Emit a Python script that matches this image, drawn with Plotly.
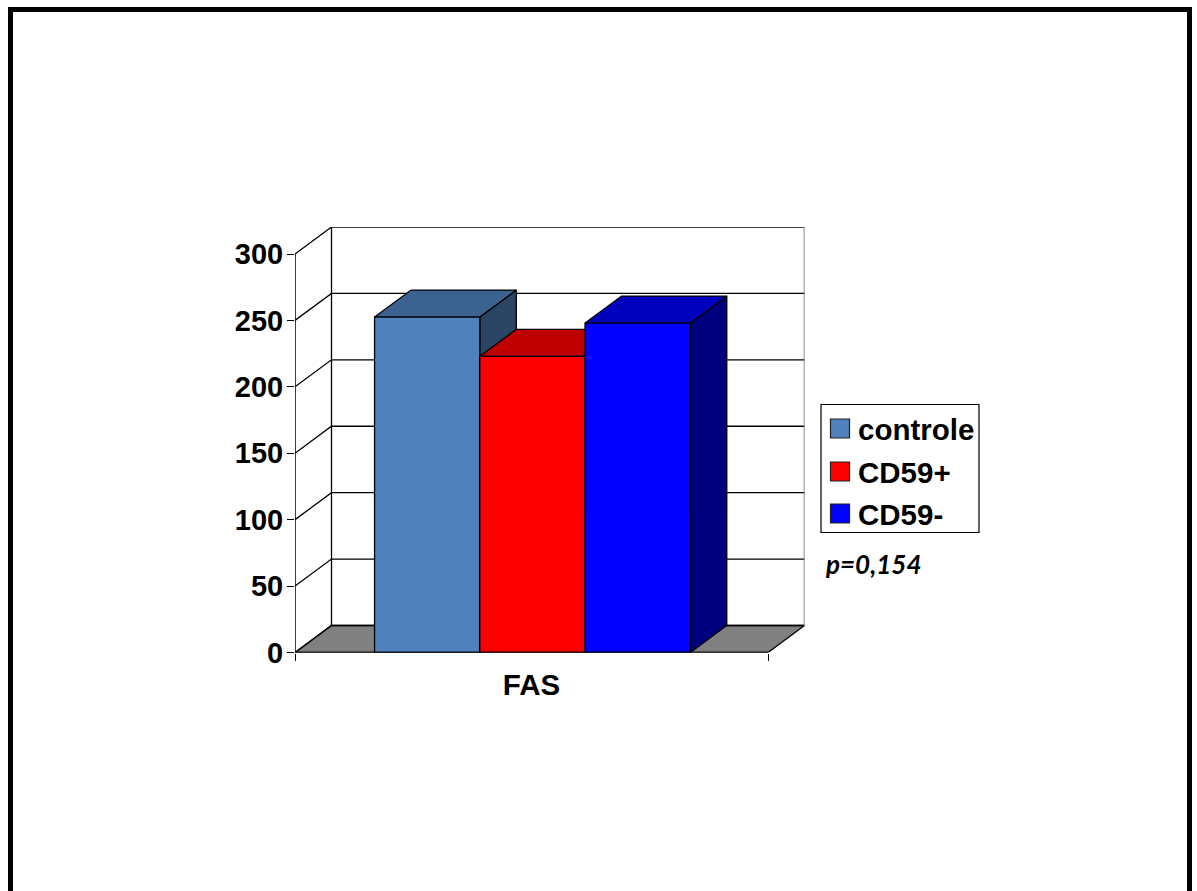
import plotly.graph_objects as go

# Chart content
series_names = ["controle", "CD59+", "CD59-"]
series_values = [252.5, 223, 248]
category_label = "FAS"
y_ticks = [0, 50, 100, 150, 200, 250, 300]
annotation_text = "p=0,154"

# Face colours: front, top, side
front_colors = ["#4F81BD", "#FF0000", "#0000FF"]
top_colors = ["#3C6390", "#BF0000", "#0000BF"]
side_colors = ["#2B4565", "#7F0000", "#00007F"]
FLOOR_COLOR = "#808080"

# Page and plot geometry, in pixels
W, H = 1197, 891
X_FRONT_L, X_FRONT_R = 295.0, 768.0
Y_BASE, Y_300 = 652.5, 254.0
DEPTH_PX_X, DEPTH_PX_Y = 36.5, 27.0
X_BACK_R = X_FRONT_R + DEPTH_PX_X
Y_TOP = Y_300 - DEPTH_PX_Y

PX_PER_VALUE = (Y_BASE - Y_300) / 300.0
PX_PER_X = X_FRONT_R - X_FRONT_L
dx = DEPTH_PX_X / PX_PER_X
dy = DEPTH_PX_Y / PX_PER_VALUE
x_range = [0, 1 + dx]
y_range = [0, 300 + dy]
x_domain = [X_FRONT_L / W, X_BACK_R / W]
y_domain = [1 - Y_BASE / H, 1 - Y_TOP / H]

# Bar placement along the front edge of the floor
BAR_WIDTH = 0.2225
BAR_START = 0.1682


def px(x):
    return x / W


def py(y):
    return 1 - y / H


fig = go.Figure()


def polygon(xs, ys, fill, line_color="black", line_width=1.3):
    fig.add_trace(go.Scatter(
        x=xs, y=ys, mode="lines", fill="toself", fillcolor=fill,
        line=dict(color=line_color, width=line_width),
        hoverinfo="skip", showlegend=False, xaxis="x", yaxis="y",
    ))


def wall_line(xs, ys, color="black", width=1.3):
    fig.add_trace(go.Scatter(
        x=xs, y=ys, mode="lines", line=dict(color=color, width=width),
        hoverinfo="skip", showlegend=False, xaxis="x", yaxis="y",
    ))


# Floor of the box
polygon([0, 1, 1 + dx, dx, 0], [0, 0, dy, dy, 0], FLOOR_COLOR)

# Gridlines on the back and side walls
for v in y_ticks:
    wall_line([0, dx, 1 + dx], [v, v + dy, v + dy])
wall_line([dx, dx], [dy, 300 + dy])
wall_line([1 + dx, 1 + dx], [dy, 300 + dy], color="#666666", width=1.5)

# Front axis line
wall_line([0, 0], [0, 300], width=1.5)

# Top and side faces, painted left to right so each bar overlaps the previous one
for i, value in enumerate(series_values):
    left = BAR_START + i * BAR_WIDTH
    right = left + BAR_WIDTH
    polygon([right, right + dx, right + dx, right, right],
            [0, dy, value + dy, value, 0], side_colors[i])
    polygon([left, right, right + dx, left + dx, left],
            [value, value, value + dy, value + dy, value], top_colors[i])

# Front faces sit on an overlaid subplot, above every top and side face
for i, (name, value) in enumerate(zip(series_names, series_values)):
    fig.add_trace(go.Bar(
        x=[0.5], y=[value], name=name, width=[BAR_WIDTH],
        offset=[BAR_START + i * BAR_WIDTH - 0.5],
        marker=dict(color=front_colors[i], line=dict(color="black", width=1.3)),
        showlegend=False, xaxis="x2", yaxis="y2",
    ))

# Bottom edge of the front plane, on top of the bars' feet
fig.add_trace(go.Scatter(
    x=[0, 1], y=[0, 0], mode="lines", line=dict(color="black", width=1.5),
    hoverinfo="skip", showlegend=False, xaxis="x2", yaxis="y2", cliponaxis=False,
))

FONT = dict(family="Liberation Sans", size=29, color="black", weight=700)
LABEL_FONT = dict(family="Liberation Sans", size=29.5, color="black", weight=700)

# Frame around the slide; its lower edge lies past the page
frame_l, frame_r, frame_t = 10.5, 1189.5, 9.5
shapes = [dict(
    type="path", xref="paper", yref="paper",
    path=(f"M {px(frame_l)} 0 L {px(frame_l)} {py(frame_t)} "
          f"L {px(frame_r)} {py(frame_t)} L {px(frame_r)} 0"),
    line=dict(color="black", width=5), fillcolor="rgba(0,0,0,0)",
)]

# Legend box with swatches and labels
LEG_L, LEG_R, LEG_T, LEG_B = 821, 979, 404.5, 532.5
SWATCH_L, SWATCH_R, SWATCH_H, TEXT_X = 830.5, 849.5, 19, 856
row_centers = [428.5, 471.5, 513.5]
shapes.append(dict(
    type="rect", xref="paper", yref="paper",
    x0=px(LEG_L), x1=px(LEG_R), y0=py(LEG_B), y1=py(LEG_T),
    line=dict(color="black", width=1.2), fillcolor="white",
))
annotations = []
for name, color, yc in zip(series_names, front_colors, row_centers):
    shapes.append(dict(
        type="rect", xref="paper", yref="paper",
        x0=px(SWATCH_L), x1=px(SWATCH_R),
        y0=py(yc + SWATCH_H / 2), y1=py(yc - SWATCH_H / 2),
        line=dict(color="#222222", width=1.2), fillcolor=color,
    ))
    annotations.append(dict(
        text=name, xref="paper", yref="paper", x=px(TEXT_X), y=py(yc + 1),
        xanchor="left", yanchor="middle", showarrow=False, font=LABEL_FONT,
    ))

annotations.append(dict(
    text=annotation_text, xref="paper", yref="paper", x=px(823), y=py(564),
    xanchor="left", yanchor="middle", showarrow=False,
    font=dict(family="Lato", size=26, color="black", weight=700, style="italic"),
))

fig.update_layout(
    width=W, height=H, margin=dict(l=0, r=0, t=0, b=0, autoexpand=False),
    paper_bgcolor="white", plot_bgcolor="white",
    barmode="overlay", showlegend=False,
    shapes=shapes, annotations=annotations,
    xaxis=dict(
        domain=x_domain, range=x_range, showgrid=False, zeroline=False,
        showline=False, automargin=False, tickmode="array", tickvals=[0.5],
        ticktext=[category_label], ticks="", tickfont=LABEL_FONT, ticklabelstandoff=12,
        minor=dict(tickmode="array", tickvals=[0, 1], ticks="outside",
                   ticklen=7, tickwidth=1.3, tickcolor="black", showgrid=False),
    ),
    yaxis=dict(
        domain=y_domain, range=y_range, showgrid=False, zeroline=False,
        showline=False, automargin=False, tickmode="array", tickvals=y_ticks,
        ticktext=[str(v) for v in y_ticks], ticks="outside", ticklen=7,
        tickwidth=1.3, tickcolor="black", tickfont=FONT, ticklabelstandoff=-2,
    ),
    xaxis2=dict(domain=x_domain, range=x_range, overlaying="x", visible=False),
    yaxis2=dict(domain=y_domain, range=y_range, overlaying="y", visible=False),
)

fig.write_html("out.html")
